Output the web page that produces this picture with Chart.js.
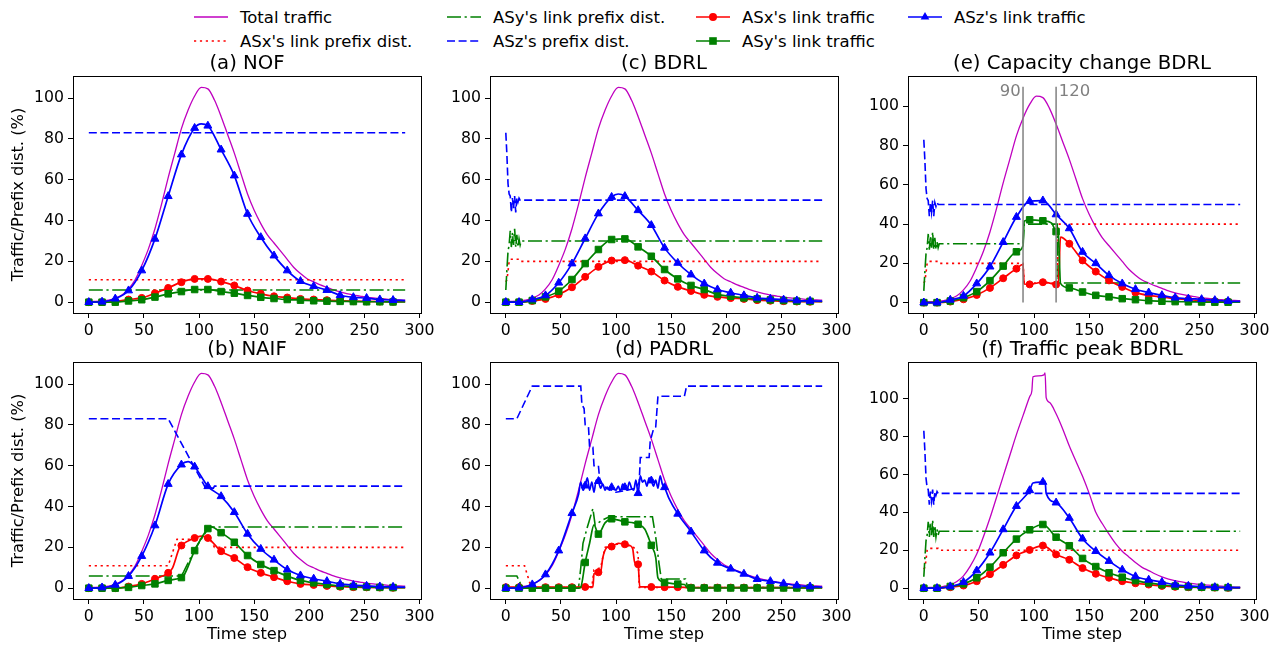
<!DOCTYPE html>
<html>
<head>
<meta charset="utf-8">
<title>Traffic and prefix distribution</title>
<script src="https://cdn.jsdelivr.net/npm/chart.js@4.4.1/dist/chart.umd.min.js"></script>
<style>
  html, body { margin: 0; padding: 0; background: #fff; }
  body { width: 1281px; height: 648px; position: relative; overflow: hidden; font-family: "DejaVu Sans", sans-serif; }
  canvas { position: absolute; }
  #legend { position: absolute; left: 0; top: 0; }
  #legend text { font-family: "DejaVu Sans", sans-serif; font-size: 16.5px; fill: #000; }
</style>
</head>
<body>
<svg id="legend" width="1281" height="58"></svg>
<canvas id="pa"></canvas>
<canvas id="pb"></canvas>
<canvas id="pc"></canvas>
<canvas id="pd"></canvas>
<canvas id="pe"></canvas>
<canvas id="pf"></canvas>
<script>
// ---- axis ticks ----
const tickX = [0, 50, 100, 150, 200, 250, 300];
const tickY = [0, 20, 40, 60, 80, 100];

// ---- shared time steps ----
const steps12 = [0,12,24,36,48,60,72,84,96,108,120,132,144,156,168,180,192,204,216,228,240,252,264,276,287];
const tTotal = [0,6,12,18,24,30,36,42,48,54,60,66,72,78,84,90,96,102,108,114,120,126,132,138,144,150,156,162,168,174,180,186,192,198,204,210,216,222,228,234,240,246,252,258,264,270,276,282,287];
const total = [0.3,0.4,0.6,1.0,2.0,3.5,6.5,11,18,26,36,48,61,73,85,94,101,105.2,104.5,99,91,82,73,63,53,45,38.5,33,29,25,21,17,14,11.5,10,8.5,7.3,6,5,4.2,3.5,3,2.5,2.1,1.8,1.5,1.3,1.1,1];

// ---- (a) NOF ----
const aPrefT = [0, 287];
const aPrefX = [11, 11];
const aPrefY = [6, 6];
const aPrefZ = [83, 83];
const aRed = [0,0,0.3,1.3,2.1,4.4,7,9.8,11.4,11.4,10.1,8.2,5.7,4.1,2.9,2.3,1.6,1.3,1,0.7,0.5,0.4,0.3,0.2,0.2];
const aGreen = [0,0,0,0.6,1.2,2.5,4.1,5.2,6.2,6.2,5.2,4.4,3.3,2.4,1.8,1.3,1,0.7,0.5,0.4,0.3,0.2,0.2,0.1,0.1];
const aBlueT = [0,12,24,36,48,60,72,84,96,102,108,120,132,144,156,168,180,192,204,216,228,240,252,264,276,287];
const aBlue = [0,0.2,1.7,5.7,15.5,31,51.9,72.3,85.3,87.3,86.4,74.7,62,43.2,31.8,22.8,15.5,10.3,7.8,5.9,3.4,2.4,2,1.3,1,0.8];

// ---- (b) NAIF ----
const bPrefXT = [0,72,80,110,114,287];
const bPrefX = [11,11,24,24,20,20];
const bPrefYT = [0,84,86,96,108,110,287];
const bPrefY = [6,6,8,19,29,30,30];
const bPrefZT = [0,72,106,113,114,287];
const bPrefZ = [83,83,49,49,50,50];
const bRedT = [0,12,24,36,48,60,72,76,82,84,96,102,108,120,132,144,156,168,180,192,204,216,228,240,252,264,276,287];
const bRed = [0,0,0,0.8,2.1,4.6,7.5,10,19.5,20.9,24.6,25.5,24.6,18.1,14.8,10.3,7.5,5.4,3.4,2.1,1.6,1.1,0.7,0.5,0.4,0.3,0.2,0.2];
const bGreenT = [0,12,24,36,48,60,72,84,86,96,108,111,120,132,144,156,168,180,192,204,216,228,240,252,264,276,287];
const bGreen = [0,0,0,0.4,1.3,2.1,3.8,5.2,6,18.4,29.2,30,27.2,22.5,16,11.6,8.6,5.9,3.8,2.6,1.8,1.1,0.8,0.6,0.4,0.3,0.3];
const bBlueT = [0,12,24,36,48,60,72,84,90,96,108,120,132,144,156,168,180,192,204,216,228,240,252,264,276,287];
const bBlue = [0,0.3,1.6,5.9,15.7,30.7,51,60.5,62,59.5,49.9,45,37.2,26.6,19.2,13.9,9.1,6.2,4.6,3.4,2.1,1.5,1.1,0.8,0.6,0.5];

// ---- (c) BDRL ----
const cPrefXT = [0,1,2,3,4,13,14,287];
const cPrefX = [10,11,15,20,21,21,20,20];
const cPrefYT = [0,1,2,3,4,5,6,7,8,9,10,11,12,13,14,287];
const cPrefY = [6,16,25,28,35,27,34,28,36,27,33,27,31,28,30,30];
const cPrefZT = [0,1,2,3,4,5,6,7,8,9,10,11,12,13,287];
const cPrefZ = [83,72,58,53,52,44,51,46,52,44,51,49,51,50,50];
const cRed = [0,0,0.6,1.6,3.8,7.3,12.4,17.3,20.4,20.6,17.9,15,10.6,7.5,5.5,3.6,2.6,2,1.6,1,0.7,0.5,0.3,0.2,0.2];
const cGreen = [0,0,0.8,2.6,5.4,11.1,18.9,25.8,30.7,31,27.1,22.5,16,11.4,8.2,6.2,3.8,2.9,2.1,1.6,1.1,0.8,0.5,0.4,0.3];
const cBlueT = [0,12,24,36,48,60,72,84,96,102,108,120,132,144,156,168,180,192,204,216,228,240,252,264,276,287];
const cBlue = [0,0,1.3,3.3,9.5,18.9,31.2,43.4,51.5,53,51.9,45,37.7,26.6,19.2,13.5,9.1,6.2,4.6,3.3,2.1,1.6,1.2,0.8,0.6,0.5];

// ---- (d) PADRL ----
const dPrefXT = [0,17,23,78,80,86,90,104,116,120,121,287];
const dPrefX = [11,11,0.3,0.3,9,10,20,22,20,17,0.3,0.3];
const dPrefYT = [0,10,15,66,68,70,74,79,81,88,94,133,136,139,141,163,165,287];
const dPrefY = [6,6,0.3,0.3,10,22,30,39,31,33.5,35,35,25,12,4.5,4.5,0.3,0.3];
const dPrefZT = [0,10,24,68,69,71,72,75,76,79,80,84,85,88,100,110,118,121,122,130,131,134,136,138,162,164,287];
const dPrefZ = [83,83,99,99,90,88,80,79,69,69,60,60,54,50,47,48,49,52,64,64,72,78,79,94,94,99,99];
const dRedT = [0,12,24,36,48,60,72,79,80,84,86,88,92,96,102,108,112,115,117,120,121.5,132,144,156,168,180,192,204,216,228,240,252,264,276,287];
const dRed = [0.5,0.5,0.5,0.5,0.5,0.5,0.6,0.6,7,7.8,8,15,20,20.4,22,21.5,21,19.5,12.5,11.7,0.6,0.6,0.5,0.5,0.3,0.3,0.3,0.3,0.3,0.3,0.3,0.3,0.3,0.3,0.3];
const dGreenT = [0,12,24,36,48,60,66,68,72,76,80,84,90,96,108,116,120,126,130,132,136,138,144,156,162,165,168,180,192,204,216,228,240,252,264,276,287];
const dGreen = [0,0,0,0,0,0,0,0.5,12.6,22,31,26.5,32,34,32.5,32,31.3,29,24,21,15,5,2.8,2,1.8,0.2,0.1,0.1,0.1,0.1,0.1,0.1,0.1,0.1,0.1,0.1,0.1];
const dBlueT = [0,12,24,36,48,60,66,68,70,72,74,76,78,80,82,84,86,88,90,92,94,96,98,100,102,104,106,108,110,112,114,116,118,120,122,124,126,128,130,132,134,136,138,140,142,144,148,156,168,180,192,204,216,228,240,252,264,276,287];
const dBlue = [0,0.2,1.8,6.7,18.4,36.7,46,52,48,50.2,54,48,52,47,53,52.4,49,51,48,49.5,48,49.4,48.5,48,50,47.5,51,49.4,48,52,49,48,53,46.5,55,52,53,50,54,52.7,50,53,49,55,51,49.4,44,36.4,27.7,18.4,12.4,9.5,7,4.4,3.4,2.3,1.3,0.8,0.5];

// ---- (e) Capacity change BDRL ----
const capLines = [90, 120];
const capTop = 110;
const ePrefXT = [0,1,2,3,4,13,14,90,91,121,122,287];
const ePrefX = [10,11,15,20,21,21,20,20,10,10,40,40];
const ePrefYT = [0,1,2,3,4,5,6,7,8,9,10,11,12,13,14,90,91,121,122,287];
const ePrefY = [6,16,25,28,35,27,34,28,36,27,33,27,31,28,30,30,40,40,10,10];
const eRedT = [0,12,24,36,48,60,72,84,90,91,96,108,120,122,124,132,144,156,168,180,192,204,216,228,240,252,264,276,287];
const eRed = [0,0,0.5,1.7,3.9,7.5,12.4,17.3,19.5,9.5,9.3,10.4,9.2,9,33.4,30,21.5,15.8,11.3,8,5.1,3.7,2.9,2,1.5,1,0.7,0.5,0.4];
const eGreenT = [0,12,24,36,48,60,72,84,90,91,96,108,116,120,122,124,132,144,156,168,180,192,204,216,228,240,252,264,276,287];
const eGreen = [0,0,0.8,2.5,5.6,11.2,18.6,25.9,29,41.5,42.2,41.7,40.5,36.2,35,9.8,7.5,5.4,3.7,2.9,2,1.5,1,0.7,0.5,0.4,0.3,0.2,0.2,0.2];
const eBlue = [0,0,1.4,3.4,9.7,18.3,30.8,43.6,51.7,52,44.9,37.8,25.8,20,13.9,9.7,6.8,5.1,3.7,2.5,2,1.7,1.2,0.8,0.6];

// ---- (f) Traffic peak BDRL ----
const tTotalF = [0,6,12,18,24,30,36,42,48,54,60,66,72,78,84,90,96,98,99,104,109,110,111,114,120,126,132,138,144,150,156,162,168,174,180,186,192,198,204,210,216,222,228,234,240,246,252,258,264,270,276,282,287];
const totalF = [0.3,0.4,0.6,1,1.8,3.5,6.5,11.5,18,27,37,48,59,70,81,91,101,104,111.5,112,112.5,113.5,100.5,98,92,84,75,67,59,50,40,34,28.5,23.5,19.5,16.5,13.5,11,9.3,7.5,6,4.8,4,3.3,2.7,2.3,2,1.6,1.3,1.1,0.8,0.6,0.5];
const fRed = [0,0,0.5,1.4,3.7,7.4,12.3,17.3,20.2,22.5,17.8,15,10.6,7.6,5.5,3.7,2.6,1.9,1.2,0.7,0.5,0.4,0.3,0.2,0.2];
const fGreen = [0,0,0.9,2.3,5.5,11.1,18.7,25.9,30.8,33.6,26.9,22.4,15.7,11.4,8.1,5.8,4,2.8,1.8,1.1,0.7,0.5,0.4,0.3,0.3];
const fBlueT = [0,12,24,36,48,60,72,84,96,99,108,110,111,120,132,144,156,168,180,192,204,216,228,240,252,264,276,287];
const fBlue = [0,0,0.9,3.2,9.3,18.7,31,43.3,51.6,55.5,56,56.5,50,45.1,37,26.1,19.5,14.3,9.7,6.2,4.4,3.2,1.8,1.2,0.9,0.5,0.4,0.3];

// ---- styles ----
Chart.defaults.font.family = "'DejaVu Sans', sans-serif";
Chart.defaults.color = '#000';

const C = {m: '#bf00bf', r: '#ff0000', g: '#008000', b: '#0000ff', grey: '#808080'};
const DASH = [8, 3.6];
const DOT = [2.2, 3.7];
const DASHDOT = [14, 3.6, 2.2, 3.6];
const PW = 348, PH = 237;
const xRange = [-14.35, 301.35];

const xy = (ts, vs) => ts.map((t, i) => ({x: t, y: vs[i]}));
const onMarker = c => c.raw && c.raw.x % 12 === 0 && c.raw.x <= 276;

function totalSet(ts, vs) {
  return {label: 'Total traffic', data: xy(ts, vs), borderColor: C.m, borderWidth: 1.3,
    pointRadius: 0, cubicInterpolationMode: 'monotone', order: 10};
}
function prefSet(label, color, dash, ts, vs, order) {
  return {label, data: xy(ts, vs), borderColor: color, borderWidth: 1.6, borderDash: dash,
    pointRadius: 0, order};
}
function linkSet(label, color, style, r, ts, vs, order) {
  return {label, data: xy(ts, vs), borderColor: color, borderWidth: 1.7, pointStyle: style,
    pointRadius: c => onMarker(c) ? r : 0, pointHoverRadius: 0,
    pointBackgroundColor: color, pointBorderColor: color, pointBorderWidth: 1,
    cubicInterpolationMode: 'monotone', order};
}
function panelSets(tot, px, py, pz, lx, ly, lz) {
  return [
    totalSet(tot[0], tot[1]),
    prefSet("ASx's link prefix dist.", C.r, DOT, px[0], px[1], 9),
    prefSet("ASy's link prefix dist.", C.g, DASHDOT, py[0], py[1], 8),
    prefSet("ASz's prefix dist.", C.b, DASH, pz[0], pz[1], 7),
    linkSet("ASx's link traffic", C.r, 'circle', 3.5, lx[0], lx[1], 6),
    linkSet("ASy's link traffic", C.g, 'rect', 4.6, ly[0], ly[1], 5),
    linkSet("ASz's link traffic", C.b, 'triangle', 4.6, lz[0], lz[1], 4)
  ];
}

// plugins: panel title, full frame, capacity-change markers
const panelTitle = {
  id: 'panelTitle',
  afterDraw(chart, args, opts) {
    const {ctx, chartArea: a} = chart;
    ctx.save();
    ctx.font = '19.7px "DejaVu Sans"';
    ctx.fillStyle = '#000';
    ctx.textAlign = 'center';
    ctx.textBaseline = 'alphabetic';
    ctx.fillText(opts.text, (a.left + a.right) / 2, a.top - 7);
    ctx.restore();
  }
};
const frame = {
  id: 'frame',
  afterDraw(chart) {
    const {ctx, chartArea: a} = chart;
    ctx.save();
    ctx.strokeStyle = '#000';
    ctx.lineWidth = 1;
    ctx.strokeRect(Math.round(a.left) + 0.5, Math.round(a.top) + 0.5, Math.round(a.width), Math.round(a.height));
    ctx.restore();
  }
};
const marks = {
  id: 'marks',
  afterDatasetsDraw(chart, args, opts) {
    if (!opts.lines || !opts.lines.length) return;
    const {ctx, scales: {x, y}} = chart;
    ctx.save();
    ctx.font = '16.5px "DejaVu Sans"';
    ctx.fillStyle = C.grey;
    ctx.textBaseline = 'top';
    opts.lines.forEach((v, i) => {
      ctx.textAlign = i === 0 ? 'right' : 'left';
      const tx = x.getPixelForValue(i === 0 ? v - 2 : v + 2.5);
      ctx.fillText(String(v), tx, y.getPixelForValue(opts.top) - 3);
    });
    ctx.restore();
  }
};

const capSets = capLines.map(v => ({label: 'capacity change', data: xy([v, v], [0, capTop]),
  borderColor: C.grey, borderWidth: 1.5, pointRadius: 0, order: 0}));

const panels = [
  {id: 'pa', title: '(a) NOF', L: 73, T: 76, yw: 73, xh: 32, yr: [-5.3, 110.8], ytitle: true, xtitle: false,
   sets: panelSets([tTotal, total], [aPrefT, aPrefX], [aPrefT, aPrefY], [aPrefT, aPrefZ],
                   [steps12, aRed], [steps12, aGreen], [aBlueT, aBlue])},
  {id: 'pb', title: '(b) NAIF', L: 73, T: 362, yw: 73, xh: 56, yr: [-5.3, 110.8], ytitle: true, xtitle: true,
   sets: panelSets([tTotal, total], [bPrefXT, bPrefX], [bPrefYT, bPrefY], [bPrefZT, bPrefZ],
                   [bRedT, bRed], [bGreenT, bGreen], [bBlueT, bBlue])},
  {id: 'pc', title: '(c) BDRL', L: 490, T: 76, yw: 55, xh: 32, yr: [-5.3, 110.8], ytitle: false, xtitle: false,
   sets: panelSets([tTotal, total], [cPrefXT, cPrefX], [cPrefYT, cPrefY], [cPrefZT, cPrefZ],
                   [steps12, cRed], [steps12, cGreen], [cBlueT, cBlue])},
  {id: 'pd', title: '(d) PADRL', L: 490, T: 362, yw: 55, xh: 56, yr: [-5.3, 110.8], ytitle: false, xtitle: true,
   sets: panelSets([tTotal, total], [dPrefXT, dPrefX], [dPrefYT, dPrefY], [dPrefZT, dPrefZ],
                   [dRedT, dRed], [dGreenT, dGreen], [dBlueT, dBlue])},
  {id: 'pe', title: '(e) Capacity change BDRL', L: 908, T: 76, yw: 55, xh: 32, yr: [-5.3, 115.5], ytitle: false, xtitle: false,
   marks: {lines: capLines, top: capTop},
   sets: panelSets([tTotal, total], [ePrefXT, ePrefX], [ePrefYT, ePrefY], [cPrefZT, cPrefZ],
                   [eRedT, eRed], [eGreenT, eGreen], [steps12, eBlue]).concat(capSets)},
  {id: 'pf', title: '(f) Traffic peak BDRL', L: 908, T: 362, yw: 55, xh: 56, yr: [-5.7, 119.3], ytitle: false, xtitle: true,
   sets: panelSets([tTotalF, totalF], [cPrefXT, cPrefX], [cPrefYT, cPrefY], [cPrefZT, cPrefZ],
                   [steps12, fRed], [steps12, fGreen], [fBlueT, fBlue])}
];

function drawPanel(p) {
  const cv = document.getElementById(p.id);
  const padTop = 36, padRight = 24;
  cv.width = p.yw + PW + padRight;
  cv.height = padTop + PH + p.xh;
  cv.style.left = (p.L - p.yw) + 'px';
  cv.style.top = (p.T - padTop) + 'px';
  return new Chart(cv, {
    type: 'line',
    data: {datasets: p.sets},
    options: {
      responsive: false,
      animation: false,
      devicePixelRatio: 1,
      layout: {padding: {top: padTop, right: padRight, left: 0, bottom: 0}},
      plugins: {
        legend: {display: false},
        tooltip: {enabled: false},
        panelTitle: {text: p.title},
        marks: p.marks || {lines: []}
      },
      scales: {
        x: {
          type: 'linear', min: xRange[0], max: xRange[1],
          afterBuildTicks: s => { s.ticks = tickX.map(v => ({value: v})); },
          afterFit: s => { s.height = p.xh; },
          grid: {drawOnChartArea: false, tickLength: 5, tickColor: '#000', tickWidth: 1},
          border: {display: false},
          ticks: {font: {size: 15.7}, padding: 4, maxRotation: 0, autoSkip: false},
          title: {display: p.xtitle, text: 'Time step', font: {size: 16.3}, padding: {top: 0, bottom: 10}}
        },
        y: {
          type: 'linear', min: p.yr[0], max: p.yr[1],
          afterBuildTicks: s => { s.ticks = tickY.map(v => ({value: v})); },
          afterFit: s => { s.width = p.yw; },
          grid: {drawOnChartArea: false, tickLength: 5, tickColor: '#000', tickWidth: 1},
          border: {display: false},
          ticks: {font: {size: 15.7}, padding: 4, autoSkip: false},
          title: {display: p.ytitle, text: 'Traffic/Prefix dist. (%)', font: {size: 16.3}, padding: {top: 9, bottom: 0}}
        }
      }
    },
    plugins: [panelTitle, frame, marks]
  });
}
panels.forEach(drawPanel);

// ---- legend (matplotlib style, 4 columns) ----
const legendItems = [
  {label: 'Total traffic', color: C.m, dash: null, marker: null, col: 0, row: 0},
  {label: "ASx's link prefix dist.", color: C.r, dash: DOT, marker: null, col: 0, row: 1},
  {label: "ASy's link prefix dist.", color: C.g, dash: DASHDOT, marker: null, col: 1, row: 0},
  {label: "ASz's prefix dist.", color: C.b, dash: DASH, marker: null, col: 1, row: 1},
  {label: "ASx's link traffic", color: C.r, dash: null, marker: 'circle', col: 2, row: 0},
  {label: "ASy's link traffic", color: C.g, dash: null, marker: 'rect', col: 2, row: 1},
  {label: "ASz's link traffic", color: C.b, dash: null, marker: 'triangle', col: 3, row: 0}
];
const legCols = [194, 447, 696, 908];
const legRows = [17, 41];
const svg = document.getElementById('legend');
const NS = 'http://www.w3.org/2000/svg';
function el(name, attrs) {
  const e = document.createElementNS(NS, name);
  Object.entries(attrs).forEach(([k, v]) => e.setAttribute(k, v));
  svg.appendChild(e);
  return e;
}
legendItems.forEach(it => {
  const x0 = legCols[it.col], x1 = x0 + 34, y = legRows[it.row], cx = (x0 + x1) / 2;
  const line = {x1: x0, x2: x1, y1: y, y2: y, stroke: it.color, 'stroke-width': it.dash ? 1.6 : 1.7};
  if (it.dash) line['stroke-dasharray'] = it.dash.join(' ');
  el('line', line);
  if (it.marker === 'circle') el('circle', {cx, cy: y, r: 4, fill: it.color});
  if (it.marker === 'rect') el('rect', {x: cx - 3.8, y: y - 3.8, width: 7.6, height: 7.6, fill: it.color});
  if (it.marker === 'triangle') {
    const r = 5;
    el('polygon', {points: `${cx},${y - r} ${cx + 0.866 * r},${y + 0.5 * r} ${cx - 0.866 * r},${y + 0.5 * r}`, fill: it.color});
  }
  const t = el('text', {x: x0 + 46, y: y, 'dominant-baseline': 'central'});
  t.textContent = it.label;
});
</script>
</body>
</html>
